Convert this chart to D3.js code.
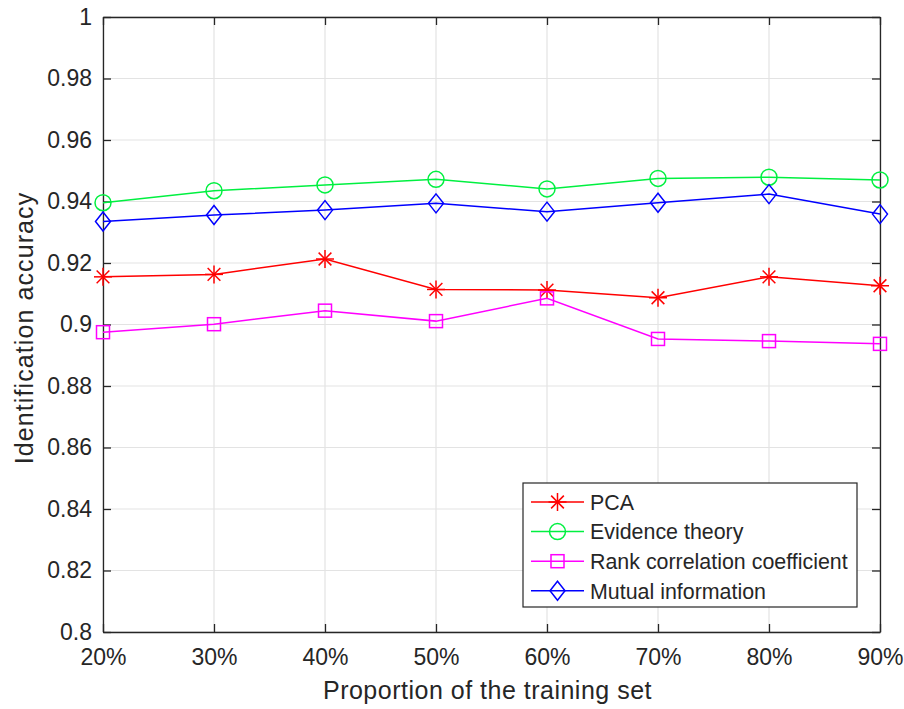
<!DOCTYPE html>
<html>
<head>
<meta charset="utf-8">
<script src="https://cdn.jsdelivr.net/npm/d3@7"></script>
<style>
  body { margin: 0; background: #fff; }
  text { font-family: "Liberation Sans", Arial, sans-serif; fill: #262626; }
</style>
</head>
<body>
<svg class="chart" width="904" height="709"></svg>
<script>
// training set proportions
const proportions = ['20%', '30%', '40%', '50%', '60%', '70%', '80%', '90%']
const pcaAcc = [0.9155, 0.9163, 0.9213, 0.9114, 0.9112, 0.9087, 0.9155, 0.9126]
const evidenceAcc = [0.9396, 0.9435, 0.9454, 0.9472, 0.9441, 0.9475, 0.9479, 0.9470]
const rankAcc = [0.8975, 0.9001, 0.9045, 0.9011, 0.9085, 0.8953, 0.8946, 0.8937]
const mutualAcc = [0.9335, 0.9356, 0.9372, 0.9394, 0.9367, 0.9396, 0.9424, 0.9359]
const yTicks = [0.8, 0.82, 0.84, 0.86, 0.88, 0.9, 0.92, 0.94, 0.96, 0.98, 1]

const seriesList = [
  { name: 'PCA', values: pcaAcc, color: '#ff0000', marker: 'star' },
  { name: 'Evidence theory', values: evidenceAcc, color: '#00f040', marker: 'circle' },
  { name: 'Rank correlation coefficient', values: rankAcc, color: '#ff00ff', marker: 'square' },
  { name: 'Mutual information', values: mutualAcc, color: '#0000ff', marker: 'diamond' }
]

const pLeft = 103, pRight = 880, pTop = 17, pBottom = 632

const svg = d3.select('.chart')

const x = d3.scalePoint().domain(proportions).range([pLeft, pRight])
const y = d3.scaleLinear().domain([0.8, 1]).range([pBottom, pTop])

// grid
svg.append('g')
  .selectAll('line')
  .data(proportions)
  .enter()
  .append('line')
  .attr('x1', (d) => x(d)).attr('x2', (d) => x(d))
  .attr('y1', pTop).attr('y2', pBottom)
  .attr('stroke', '#e3e3e3').attr('stroke-width', 1.2)

svg.append('g')
  .selectAll('line')
  .data(yTicks)
  .enter()
  .append('line')
  .attr('x1', pLeft).attr('x2', pRight)
  .attr('y1', (d) => y(d)).attr('y2', (d) => y(d))
  .attr('stroke', '#e3e3e3').attr('stroke-width', 1.2)

// axes
const fmtY = (d) => String(+d.toFixed(2))

const xAxis = svg.append('g')
  .attr('transform', 'translate(0,' + pBottom + ')')
  .call(d3.axisBottom(x).tickSizeInner(-8).tickSizeOuter(0).tickPadding(17))
const xTop = svg.append('g')
  .attr('transform', 'translate(0,' + pTop + ')')
  .call(d3.axisTop(x).tickSizeInner(-8).tickSizeOuter(0).tickFormat(''))
const yAxis = svg.append('g')
  .attr('transform', 'translate(' + pLeft + ',0)')
  .call(d3.axisLeft(y).tickValues(yTicks).tickFormat(fmtY).tickSizeInner(-8).tickSizeOuter(0).tickPadding(11))
const yRight = svg.append('g')
  .attr('transform', 'translate(' + pRight + ',0)')
  .call(d3.axisRight(y).tickValues(yTicks).tickSizeInner(-8).tickSizeOuter(0).tickFormat(''))

;[xAxis, xTop, yAxis, yRight].forEach((g) => {
  g.select('.domain').attr('stroke', '#262626').attr('stroke-width', 1.3)
  g.selectAll('.tick line').attr('stroke', '#262626').attr('stroke-width', 1.3)
  g.selectAll('.tick text').attr('fill', '#262626').style('font-size', '23px')
    .style('font-family', '"Liberation Sans", Arial, sans-serif')
})

// markers
function drawMarker(g, type, color) {
  if (type === 'star') {
    const r = 9
    ;[0, 45, 90, 135].forEach((a) => {
      const rad = a * Math.PI / 180
      g.append('line')
        .attr('x1', -r * Math.cos(rad)).attr('y1', -r * Math.sin(rad))
        .attr('x2', r * Math.cos(rad)).attr('y2', r * Math.sin(rad))
        .attr('stroke', color).attr('stroke-width', 1.5)
    })
  } else if (type === 'circle') {
    g.append('circle').attr('r', 8).attr('fill', 'none')
      .attr('stroke', color).attr('stroke-width', 1.5)
  } else if (type === 'square') {
    g.append('rect').attr('x', -6.5).attr('y', -6.5).attr('width', 13).attr('height', 13)
      .attr('fill', 'none').attr('stroke', color).attr('stroke-width', 1.5)
  } else if (type === 'diamond') {
    g.append('path').attr('d', 'M0,-9.5L7.5,0L0,9.5L-7.5,0Z')
      .attr('fill', 'none').attr('stroke', color).attr('stroke-width', 1.5)
  }
}

const line = d3.line()
  .x((d, i) => x(proportions[i]))
  .y((d) => y(d))

seriesList.forEach((s) => {
  svg.append('path')
    .datum(s.values)
    .attr('d', line)
    .attr('fill', 'none')
    .attr('stroke', s.color)
    .attr('stroke-width', 1.5)
  s.values.forEach((v, i) => {
    const g = svg.append('g').attr('transform', 'translate(' + x(proportions[i]) + ',' + y(v) + ')')
    drawMarker(g, s.marker, s.color)
  })
})

// axis labels
svg.append('text')
  .attr('x', (pLeft + pRight) / 2 - 4).attr('y', 699)
  .attr('text-anchor', 'middle')
  .style('font-size', '25px')
  .style('letter-spacing', '0.5px')
  .text('Proportion of the training set')

svg.append('text')
  .attr('transform', 'translate(33,' + 328 + ') rotate(-90)')
  .attr('text-anchor', 'middle')
  .style('font-size', '25px')
  .style('letter-spacing', '1.1px')
  .text('Identification accuracy')

// legend
const legend = svg.append('g')
legend.append('rect')
  .attr('x', 523).attr('y', 483).attr('width', 334).attr('height', 124)
  .attr('fill', '#fff').attr('stroke', '#262626').attr('stroke-width', 1.2)

seriesList.forEach((s, i) => {
  const ly = 502 + i * 29.6
  const g = legend.append('g')
  g.append('line').attr('x1', 531).attr('x2', 584).attr('y1', ly).attr('y2', ly)
    .attr('stroke', s.color).attr('stroke-width', 1.5)
  drawMarker(g.append('g').attr('transform', 'translate(557.5,' + ly + ')'), s.marker, s.color)
  g.append('text').attr('x', 590).attr('y', ly).attr('dy', '0.36em')
    .style('font-size', '21.4px')
    .text(s.name)
})
</script>
</body>
</html>
